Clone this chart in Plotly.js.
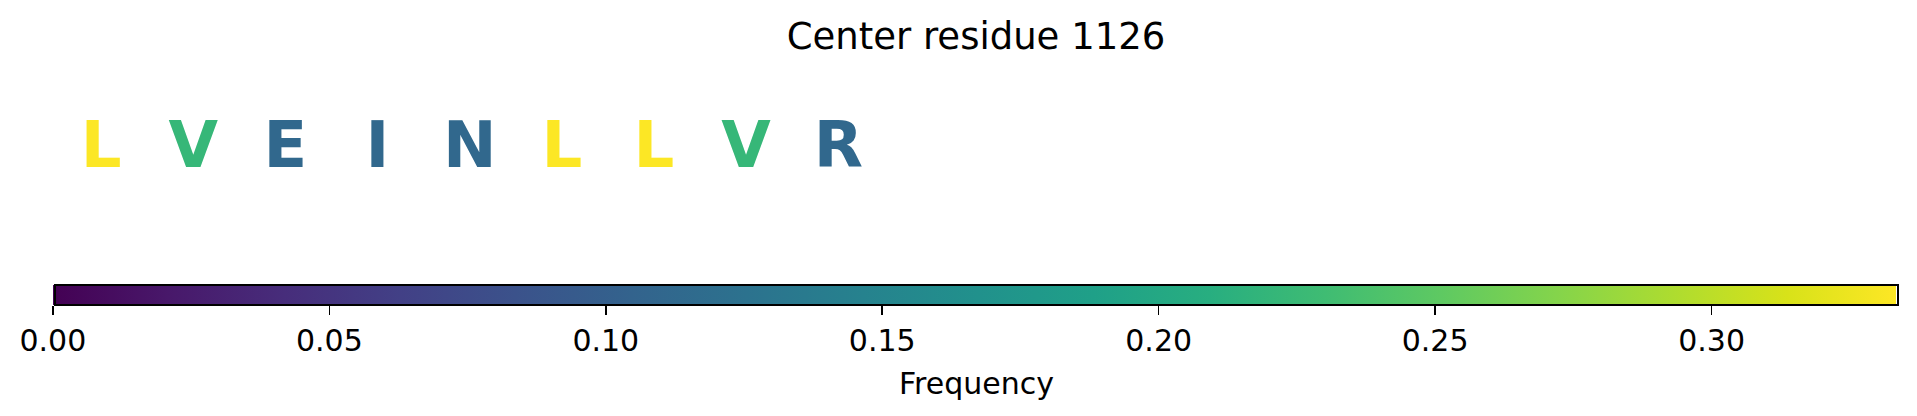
<!DOCTYPE html>
<html>
<head>
<meta charset="utf-8">
<script src="https://cdn.plot.ly/plotly-3.0.1.min.js"></script>
<style>html,body{margin:0;padding:0;background:#fff;}#chart{width:1917px;height:416px;}</style>
</head>
<body>
<div id="chart"></div>
<script>
// ---- data ----
const residues = ['L', 'V', 'E', 'I', 'N', 'L', 'L', 'V', 'R'];
const positions = [0, 1, 2, 3, 4, 5, 6, 7, 8];
const frequency = [0.333, 0.222, 0.111, 0.111, 0.111, 0.333, 0.333, 0.222, 0.111];
const tickValues = [0.00, 0.05, 0.10, 0.15, 0.20, 0.25, 0.30];
const tickLabels = ['0.00', '0.05', '0.10', '0.15', '0.20', '0.25', '0.30'];
const freqMin = 0;
const freqMax = 1 / 3;
const titleText = 'Center residue 1126';
const colorbarTitle = 'Frequency';

// viridis colorscale (same stops as Plotly's built-in Viridis)
const viridis = [[0,'#440154'],[0.06274509803921569,'#48186a'],[0.12549019607843137,'#472d7b'],[0.18823529411764706,'#424086'],[0.25098039215686274,'#3b528b'],[0.3137254901960784,'#33638d'],[0.3764705882352941,'#2c728e'],[0.4392156862745098,'#26828e'],[0.5019607843137255,'#21918c'],[0.5647058823529412,'#1fa088'],[0.6274509803921569,'#28ae80'],[0.6901960784313725,'#3fbc73'],[0.7529411764705882,'#5ec962'],[0.8156862745098039,'#84d44b'],[0.8784313725490196,'#addc30'],[0.9411764705882353,'#d8e219'],[1,'#fde725']];

function hexToRgb(h){return [parseInt(h.slice(1,3),16),parseInt(h.slice(3,5),16),parseInt(h.slice(5,7),16)];}
function colorFor(v){
  let t = (v - freqMin) / (freqMax - freqMin);
  t = Math.max(0, Math.min(1, t));
  for (let i = 0; i < viridis.length - 1; i++) {
    const a = viridis[i], b = viridis[i+1];
    if (t >= a[0] && t <= b[0]) {
      const f = (t - a[0]) / (b[0] - a[0]);
      const ca = hexToRgb(a[1]), cb = hexToRgb(b[1]);
      const c = ca.map((x, k) => Math.round(x + (cb[k] - x) * f));
      return 'rgb(' + c.join(',') + ')';
    }
  }
  return viridis[viridis.length-1][1];
}

const letterColors = frequency.map(colorFor);
const yRow = positions.map(() => 0.5);

const font = 'DejaVu Sans, sans-serif';

const letters = {
  type: 'scatter',
  mode: 'text',
  x: positions,
  y: yRow,
  text: residues,
  textposition: 'middle center',
  textfont: {family: font, size: 64, color: letterColors, weight: 'bold'},
  hoverinfo: 'skip',
  showlegend: false
};

const scaleTrace = {
  type: 'scatter',
  mode: 'markers',
  x: positions,
  y: yRow,
  marker: {
    color: frequency,
    colorscale: viridis,
    cmin: freqMin,
    cmax: freqMax,
    opacity: 0,
    size: 1,
    showscale: true,
    colorbar: {
      orientation: 'h',
      xref: 'container', yref: 'container',
      x: 55 / 1917, xanchor: 'left',
      y: 1 - 285 / 416, yanchor: 'top',
      len: 1843, lenmode: 'pixels',
      thickness: 20, thicknessmode: 'pixels',
      xpad: 0, ypad: 0,
      outlinewidth: 2, outlinecolor: '#000',
      ticks: 'outside', ticklen: 9, tickwidth: 1.5, tickcolor: '#000',
      tickvals: tickValues, ticktext: tickLabels,
      tickfont: {family: font, size: 30, color: '#000'}
    }
  },
  hoverinfo: 'skip',
  showlegend: false
};

const layout = {
  width: 1917, height: 416,
  paper_bgcolor: '#fff', plot_bgcolor: '#fff',
  margin: {l: 55, r: 19, t: 87, b: 202},
  title: {
    text: titleText,
    font: {family: font, size: 37, color: '#000'},
    x: 976 / 1917, xanchor: 'center', xref: 'container',
    y: 1 - 23 / 416, yanchor: 'top', yref: 'container'
  },
  annotations: [{
    text: colorbarTitle,
    xref: 'paper', yref: 'paper',
    x: (976 - 55) / (1917 - 55 - 19), xanchor: 'center',
    y: -(383 - 214) / (214 - 87), yanchor: 'middle',
    showarrow: false,
    font: {family: font, size: 30, color: '#000'}
  }],
  xaxis: {range: [-0.5, 19.5], visible: false, fixedrange: true},
  yaxis: {range: [0, 1], visible: false, fixedrange: true},
  showlegend: false
};

Plotly.newPlot('chart', [letters, scaleTrace], layout, {displayModeBar: false, staticPlot: true});
</script>
</body>
</html>
